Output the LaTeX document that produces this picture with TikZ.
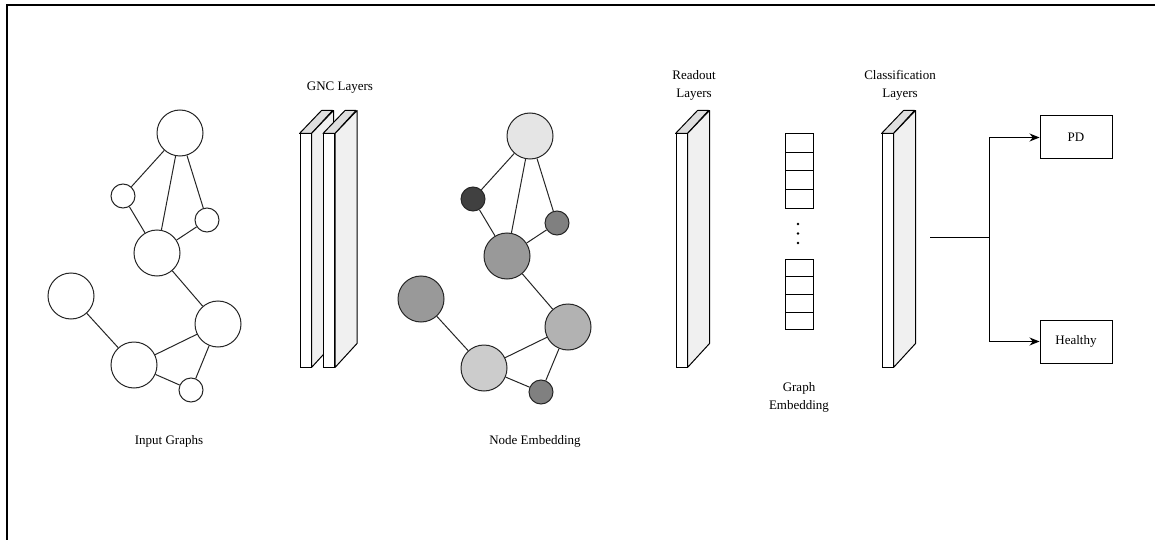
\documentclass[tikz,border=0pt]{standalone}
\usepackage{fontspec}
\setmainfont{Liberation Serif}
\usetikzlibrary{arrows.meta}
\newcommand\layerfaces[1]{%
  \filldraw[topface] (#1.north west) -- ++(22,-23) -- ++(11,0) -- (#1.north east) -- cycle;
  \filldraw[sideface] (#1.north east) -- ++(22,-23) -- ++(0,233) -- (#1.south east) -- cycle;
}
\begin{document}
\begin{tikzpicture}[x=1pt,y=-1pt,
  every node/.style={font=\fontsize{13}{18}\selectfont},
  edge/.style={draw=black!85,line width=1pt},
  gn/.style={circle,draw=black!85,line width=1pt,inner sep=0pt,minimum size=46pt,fill=white},
  sn/.style={gn,minimum size=24pt},
  front/.style={draw=black,line width=1pt,fill=white,minimum width=11pt,minimum height=233pt,inner sep=0pt},
  topface/.style={draw=black,line width=1pt,line join=round,fill=black!13},
  sideface/.style={draw=black,line width=1pt,line join=round,fill=black!6},
  cell/.style={draw=black,line width=1pt,fill=white,minimum width=28pt,inner sep=0pt},
  outbox/.style={draw=black,line width=1pt,fill=white,minimum width=72pt,minimum height=43pt,inner sep=0pt},
  conn/.style={draw=black,line width=1pt},
  arr/.style={conn,-{Stealth[length=10pt,width=8pt]}},
  lbl/.style={align=center,inner sep=0pt}
]
\useasboundingbox (0,0) rectangle (1155,540);
% frame
\draw[line width=1.5pt] (7,540) -- (7,5) -- (1155,5);

% ---- Input graph ----
\node[gn] (a1) at (180,133) {};
\node[sn] (a2) at (123,196) {};
\node[sn] (a3) at (207,220) {};
\node[gn] (a4) at (157,253) {};
\node[gn] (a5) at (71,296) {};
\node[gn] (a6) at (218,324) {};
\node[gn] (a7) at (134,365) {};
\node[sn] (a8) at (191,390) {};
\draw[edge] (a1) -- (a2);
\draw[edge] (a1) -- (a4);
\draw[edge] (a1) -- (a3);
\draw[edge] (a2) -- (a4);
\draw[edge] (a3) -- (a4);
\draw[edge] (a4) -- (a6);
\draw[edge] (a5) -- (a7);
\draw[edge] (a7) -- (a6);
\draw[edge] (a7) -- (a8);
\draw[edge] (a8) -- (a6);
\node[lbl] (inlbl) at (169,441) {Input Graphs};

% ---- GNC layers ----
\node[lbl] (gnclbl) at (340,88) {GNC Layers};
\node[front] (g1) at (305.5,250.5) {};
\layerfaces{g1}
\node[front] (g2) at (329,250.5) {};
\layerfaces{g2}

% ---- Node embedding graph ----
\node[gn,fill=black!10] (b1) at (530,136) {};
\node[sn,fill=black!75] (b2) at (473,199) {};
\node[sn,fill=black!50] (b3) at (557,223) {};
\node[gn,fill=black!40] (b4) at (507,256) {};
\node[gn,fill=black!40] (b5) at (421,299) {};
\node[gn,fill=black!30] (b6) at (568,327) {};
\node[gn,fill=black!20] (b7) at (484,368) {};
\node[sn,fill=black!50] (b8) at (541,392) {};
\draw[edge] (b1) -- (b2);
\draw[edge] (b1) -- (b4);
\draw[edge] (b1) -- (b3);
\draw[edge] (b2) -- (b4);
\draw[edge] (b3) -- (b4);
\draw[edge] (b4) -- (b6);
\draw[edge] (b5) -- (b7);
\draw[edge] (b7) -- (b6);
\draw[edge] (b7) -- (b8);
\draw[edge] (b8) -- (b6);
\node[lbl] (nelbl) at (535,441) {Node Embedding};

% ---- Readout layer ----
\node[lbl] (rolbl) at (694,85) {Readout\\Layers};
\node[front] (r1) at (681.5,250.5) {};
\layerfaces{r1}

% ---- Graph embedding ----
\node[cell,minimum height=18.5pt] (e1) at (799,143.25) {};
\node[cell,minimum height=18.5pt] (e2) at (799,161.75) {};
\node[cell,minimum height=18.5pt] (e3) at (799,180.25) {};
\node[cell,minimum height=18.5pt] (e4) at (799,198.75) {};
\fill (798,224) circle (1.3);
\fill (798,233.5) circle (1.3);
\fill (798,243) circle (1.3);
\node[cell,minimum height=17.75pt] (f1) at (799,267.9) {};
\node[cell,minimum height=17.75pt] (f2) at (799,285.6) {};
\node[cell,minimum height=17.75pt] (f3) at (799,303.4) {};
\node[cell,minimum height=17.75pt] (f4) at (799,321.1) {};
\node[lbl] (gelbl) at (799,397) {Graph\\Embedding};

% ---- Classification layer ----
\node[lbl] (cllbl) at (900,85) {Classification\\Layers};
\node[front] (c1) at (887.5,250.5) {};
\layerfaces{c1}

% ---- Outputs ----
\node[outbox] (pd) at (1076,137.5) {PD};
\node[outbox] (healthy) at (1076,341.5) {Healthy};
\coordinate (src) at (930,237);
\coordinate (j) at (989,237);
\draw[conn] (src) -- (j);
\draw[arr] (j) |- (pd.west);
\draw[arr] (j) |- (healthy.west);
\end{tikzpicture}
\end{document}
